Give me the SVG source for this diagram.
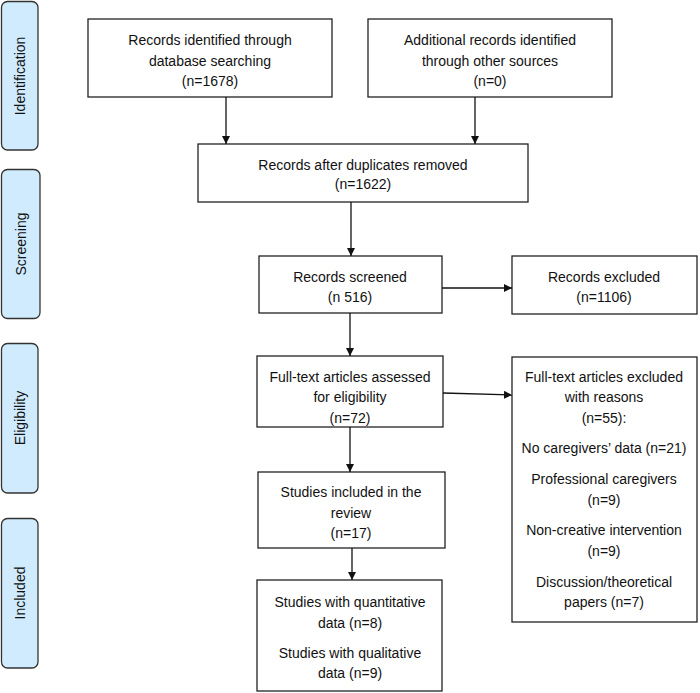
<svg xmlns="http://www.w3.org/2000/svg" width="700" height="693" viewBox="0 0 700 693">
<style>
.box{fill:#fff;stroke:#222;stroke-width:1.3}
.side{fill:#cfebfd;stroke:#333;stroke-width:1.3}
text{font-family:"Liberation Sans","Open Sans",sans-serif;font-size:14px;fill:#111;text-anchor:middle}
.cn line{stroke:#111;stroke-width:1.3;marker-end:url(#ah)}
</style>
<defs>
<marker id="ah" viewBox="0 0 10 10" refX="10" refY="5" markerWidth="8" markerHeight="8" markerUnits="userSpaceOnUse" orient="auto">
<path d="M0,0 L10,5 L0,10 z" fill="#111"/>
</marker>
</defs>
<rect width="700" height="693" fill="#fff"/>
<g id="side-identification"><rect class="side" x="1.5" y="1.5" width="36.5" height="148.5" rx="6"/><text transform="translate(24.5,76) rotate(-90)">Identification</text></g>
<g id="side-screening"><rect class="side" x="1.5" y="169.5" width="38.5" height="149" rx="6"/><text transform="translate(25.5,244) rotate(-90)">Screening</text></g>
<g id="side-eligibility"><rect class="side" x="1.5" y="343.5" width="36.5" height="149.5" rx="6"/><text transform="translate(24.5,418) rotate(-90)">Eligibility</text></g>
<g id="side-included"><rect class="side" x="1.5" y="518.5" width="36.5" height="149.5" rx="6"/><text transform="translate(24.5,593) rotate(-90)">Included</text></g>

<g id="n-db"><rect class="box" x="88" y="19" width="244" height="78"/><text x="210" y="45">Records identified through</text><text x="210" y="66">database searching</text><text x="210" y="86">(n=1678)</text></g>
<g id="n-other"><rect class="box" x="368" y="19" width="244" height="78"/><text x="490" y="45">Additional records identified</text><text x="490" y="66">through other sources</text><text x="490" y="86">(n=0)</text></g>
<g id="n-dup"><rect class="box" x="198" y="144" width="330" height="58"/><text x="363" y="170">Records after duplicates removed</text><text x="363" y="189">(n=1622)</text></g>
<g id="n-screened"><rect class="box" x="259" y="256" width="183" height="57"/><text x="350" y="282">Records screened</text><text x="350" y="302">(n 516)</text></g>
<g id="n-excluded"><rect class="box" x="512" y="256" width="185" height="58"/><text x="604" y="282">Records excluded</text><text x="604" y="302">(n=1106)</text></g>
<g id="n-fulltext"><rect class="box" x="257" y="356" width="186" height="71"/><text x="350" y="382">Full-text articles assessed</text><text x="350" y="402">for eligibility</text><text x="350" y="423">(n=72)</text></g>
<g id="n-ftexcluded"><rect class="box" x="512" y="357" width="185" height="265"/>
<text x="604" y="382">Full-text articles excluded</text><text x="604" y="402">with reasons</text><text x="604" y="423">(n=55):</text>
<text x="604" y="453">No caregivers’ data (n=21)</text>
<text x="604" y="484">Professional caregivers</text><text x="604" y="505">(n=9)</text>
<text x="604" y="535">Non-creative intervention</text><text x="604" y="556">(n=9)</text>
<text x="604" y="587">Discussion/theoretical</text><text x="604" y="607">papers (n=7)</text></g>
<g id="n-included"><rect class="box" x="258" y="472" width="187" height="76"/><text x="351" y="497">Studies included in the</text><text x="351" y="518">review</text><text x="351" y="538">(n=17)</text></g>
<g id="n-final"><rect class="box" x="257" y="580" width="185" height="111"/><text x="350" y="607">Studies with quantitative</text><text x="350" y="628">data (n=8)</text><text x="350" y="658">Studies with qualitative</text><text x="350" y="678">data (n=9)</text></g>

<g class="cn" id="connectors">
<line x1="226" y1="97" x2="226" y2="144"/>
<line x1="475" y1="97" x2="475" y2="144"/>
<line x1="351" y1="202" x2="351" y2="256"/>
<line x1="442" y1="288" x2="512" y2="288"/>
<line x1="350" y1="313" x2="350" y2="356"/>
<line x1="443" y1="393" x2="512" y2="395"/>
<line x1="350" y1="427" x2="350" y2="472"/>
<line x1="352" y1="548" x2="352" y2="580"/>
</g>
</svg>
